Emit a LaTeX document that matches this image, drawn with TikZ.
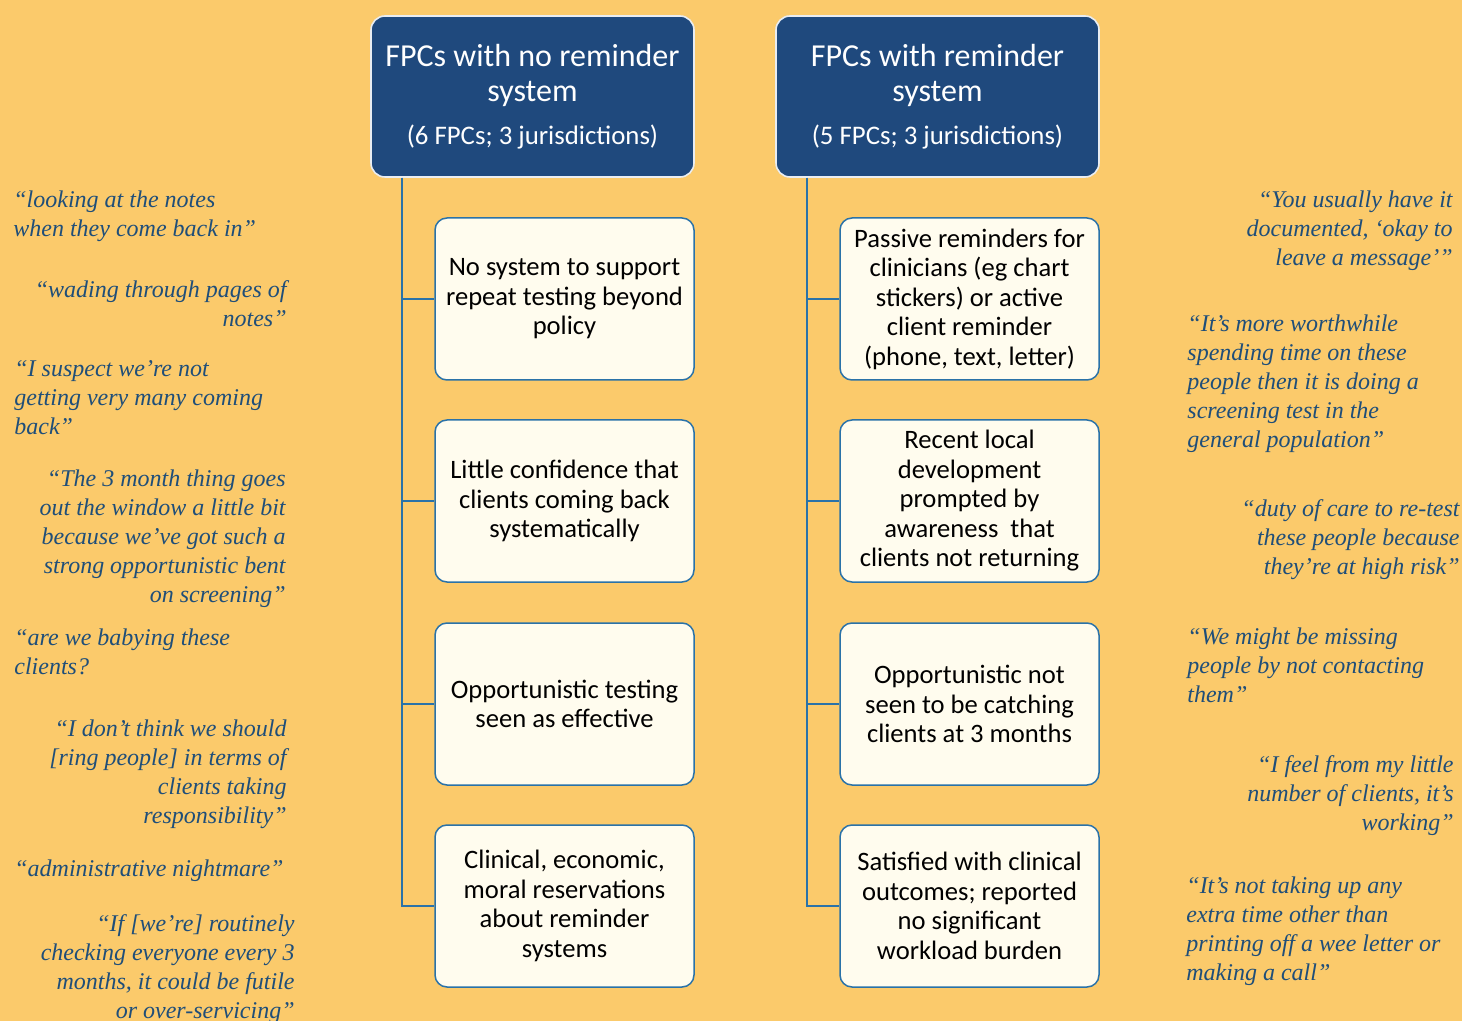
\documentclass[tikz,border=0pt]{standalone}
\usepackage{fontspec}
\setmainfont{Carlito}
\newfontfamily\quotefont{Liberation Serif}
\usetikzlibrary{positioning}
\definecolor{bgyellow}{HTML}{FBCA6B}
\definecolor{hdrblue}{HTML}{1F497D}
\definecolor{boxline}{HTML}{2A72A8}
\definecolor{boxfill}{HTML}{FFFCEE}
\definecolor{quoteblue}{HTML}{1F4E79}

\begin{document}
\begin{tikzpicture}[x=0.5pt, y=-0.5pt,
    header/.style={draw=white!90!hdrblue, line width=0.8pt, fill=hdrblue, text=white,
        rounded corners=7pt, minimum width=161.5pt, minimum height=80.5pt,
        align=center, font=\fontsize{16}{17.5}\selectfont},
    theme/.style={draw=boxline, line width=0.75pt, fill=boxfill, rounded corners=6pt,
        minimum width=129.5pt, minimum height=81pt, align=center,
        font=\fontsize{13.3}{14.75}\selectfont},
    branch/.style={draw=boxline, line width=1pt},
    quote/.style={inner sep=0pt, text=quoteblue,
        font=\quotefont\itshape\fontsize{12}{14.5}\selectfont},
    qleft/.style={quote, anchor=north west, align=left},
    qright/.style={quote, anchor=north east, align=right}]
\useasboundingbox[fill=bgyellow] (0,0) rectangle (1462,1021);

% headers
\node[header] (hdrL) at (532.5,96.5) {FPCs with no reminder\\system\\[4pt]
    {\fontsize{13.4}{15}\selectfont (6 FPCs; 3 jurisdictions)}};
\node[header] (hdrR) at (937.5,96.5) {FPCs with reminder\\system\\[4pt]
    {\fontsize{13.4}{15}\selectfont (5 FPCs; 3 jurisdictions)}};

% themes, no reminder system
\node[theme] (noA) at (564.5,299) {No system to support\\repeat testing beyond\\policy};
\node[theme] (noB) at (564.5,501) {Little confidence that\\clients coming back\\systematically};
\node[theme] (noC) at (564.5,704) {Opportunistic testing\\seen as effective};
\node[theme] (noD) at (564.5,906) {Clinical, economic,\\moral reservations\\about reminder\\systems};

% themes, reminder system
\node[theme] (remA) at (969.5,299) {Passive reminders for\\clinicians (eg chart\\stickers) or active\\client reminder\\(phone, text, letter)};
\node[theme] (remB) at (969.5,501) {Recent local\\development\\prompted by\\awareness\ \ that\\clients not returning};
\node[theme] (remC) at (969.5,704) {Opportunistic not\\seen to be catching\\clients at 3 months};
\node[theme] (remD) at (969.5,906) {Satisfied with clinical\\outcomes; reported\\no significant\\workload burden};

% tree lines
\foreach \n in {noA,noB,noC,noD}
  \draw[branch] ([xshift=16pt]hdrL.south west) |- (\n.west);
\foreach \n in {remA,remB,remC,remD}
  \draw[branch] ([xshift=16pt]hdrR.south west) |- (\n.west);

% quotes, left side
\node[qleft]  (qL1) at (13,190)  {“looking at the notes\\when they come back in”};
\node[qright] (qL2) at (287,280) {“wading through pages of\\notes”};
\node[qleft]  (qL3) at (14,360)  {“I suspect we’re not\\getting very many coming\\back”};
\node[qright] (qL4) at (286,469) {“The 3 month thing goes\\out the window a little bit\\because we’ve got such a\\strong opportunistic bent\\on screening”};
\node[qleft]  (qL5) at (14,628)  {“are we babying these\\clients?};
\node[qright] (qL6) at (287,719) {“I don’t think we should\\{[ring people]} in terms of\\clients taking\\responsibility”};
\node[qleft]  (qL7) at (14,859)  {“administrative nightmare”};
\node[qright] (qL8) at (295,914) {“If [we’re] routinely\\checking everyone every 3\\months, it could be futile\\or over-servicing”};

% quotes, right side
\node[qright] (qR1) at (1453,190) {“You usually have it\\documented, ‘okay to\\leave a message’”};
\node[qleft]  (qR2) at (1187,314) {“It’s more worthwhile\\spending time on these\\people then it is doing a\\screening test in the\\general population”};
\node[qright] (qR3) at (1460,499) {“duty of care to re-test\\these people because\\they’re at high risk”};
\node[qleft]  (qR4) at (1187,627) {“We might be missing\\people by not contacting\\them”};
\node[qright] (qR5) at (1454,755) {“I feel from my little\\number of clients, it’s\\working”};
\node[qleft]  (qR6) at (1186,876) {“It’s not taking up any\\extra time other than\\printing off a wee letter or\\making a call”};
\end{tikzpicture}
\end{document}
